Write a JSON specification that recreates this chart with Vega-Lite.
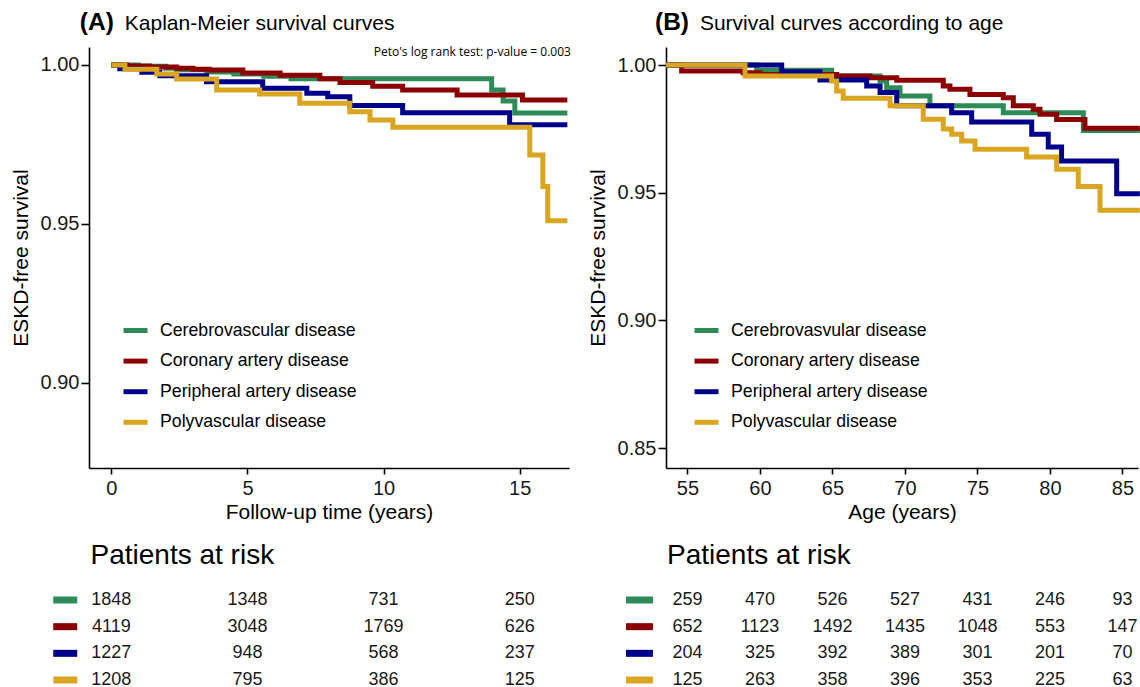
{
 "$schema": "https://vega.github.io/schema/vega-lite/v6.json",
 "padding": {"left": 10, "top": 10, "right": 0, "bottom": 0},
 "background": "white",
 "config": {
  "view": {"stroke": null},
  "font": "Liberation Sans",
  "axis": {"grid": false, "domainColor": "#000", "domainWidth": 1.6, "tickColor": "#000", "tickWidth": 1.6, "tickSize": 6, "labelFont": "Liberation Sans", "labelFontSize": 20, "labelColor": "#1a1a1a", "titleFont": "Liberation Sans", "titleFontSize": 21, "titleFontWeight": "normal", "titleColor": "#000", "labelPadding": 4},
  "axisY": {"tickSize": 8, "labelPadding": 2, "titlePadding": 8.6},
  "legend": {"orient": "none", "padding": 0, "symbolType": "stroke", "symbolStrokeWidth": 5, "symbolSize": 576, "labelFont": "Liberation Sans", "labelFontSize": 17.7, "labelColor": "#000", "labelOffset": 10, "labelLimit": 0, "rowPadding": 5.6, "title": null},
  "title": {"font": "Liberation Sans", "fontWeight": "normal", "color": "#000", "anchor": "start", "frame": "group"}
 },
 "datasets": {
  "curvesA": [
   {"g": "Cerebrovascular disease", "t": 0, "s": 1.0},
   {"g": "Cerebrovascular disease", "t": 1.0, "s": 0.9996},
   {"g": "Cerebrovascular disease", "t": 2.0, "s": 0.999},
   {"g": "Cerebrovascular disease", "t": 2.4, "s": 0.9985},
   {"g": "Cerebrovascular disease", "t": 3.5, "s": 0.9978},
   {"g": "Cerebrovascular disease", "t": 4.5, "s": 0.9972},
   {"g": "Cerebrovascular disease", "t": 5.6, "s": 0.9965},
   {"g": "Cerebrovascular disease", "t": 6.6, "s": 0.9957},
   {"g": "Cerebrovascular disease", "t": 13.97, "s": 0.9921},
   {"g": "Cerebrovascular disease", "t": 14.39, "s": 0.9887},
   {"g": "Cerebrovascular disease", "t": 14.82, "s": 0.9849},
   {"g": "Cerebrovascular disease", "t": 16.75, "s": 0.9849},
   {"g": "Coronary artery disease", "t": 0, "s": 1.0},
   {"g": "Coronary artery disease", "t": 0.57, "s": 0.9997},
   {"g": "Coronary artery disease", "t": 1.41, "s": 0.9994},
   {"g": "Coronary artery disease", "t": 2.4, "s": 0.999},
   {"g": "Coronary artery disease", "t": 3.0, "s": 0.9987},
   {"g": "Coronary artery disease", "t": 3.6, "s": 0.9984},
   {"g": "Coronary artery disease", "t": 4.83, "s": 0.9975},
   {"g": "Coronary artery disease", "t": 6.2, "s": 0.9968},
   {"g": "Coronary artery disease", "t": 7.66, "s": 0.9957},
   {"g": "Coronary artery disease", "t": 8.4, "s": 0.9945},
   {"g": "Coronary artery disease", "t": 9.6, "s": 0.9933},
   {"g": "Coronary artery disease", "t": 10.7, "s": 0.9921},
   {"g": "Coronary artery disease", "t": 12.7, "s": 0.9906},
   {"g": "Coronary artery disease", "t": 15.1, "s": 0.989},
   {"g": "Coronary artery disease", "t": 16.75, "s": 0.989},
   {"g": "Peripheral artery disease", "t": 0, "s": 1.0},
   {"g": "Peripheral artery disease", "t": 0.31, "s": 0.9988},
   {"g": "Peripheral artery disease", "t": 1.12, "s": 0.9977},
   {"g": "Peripheral artery disease", "t": 1.78, "s": 0.9966},
   {"g": "Peripheral artery disease", "t": 3.5, "s": 0.9947},
   {"g": "Peripheral artery disease", "t": 5.56, "s": 0.9927},
   {"g": "Peripheral artery disease", "t": 7.18, "s": 0.9911},
   {"g": "Peripheral artery disease", "t": 7.95, "s": 0.99},
   {"g": "Peripheral artery disease", "t": 8.76, "s": 0.9873},
   {"g": "Peripheral artery disease", "t": 10.7, "s": 0.985},
   {"g": "Peripheral artery disease", "t": 14.63, "s": 0.9812},
   {"g": "Peripheral artery disease", "t": 16.75, "s": 0.9812},
   {"g": "Polyvascular disease", "t": 0, "s": 1.0},
   {"g": "Polyvascular disease", "t": 0.5, "s": 0.9987},
   {"g": "Polyvascular disease", "t": 1.67, "s": 0.9972},
   {"g": "Polyvascular disease", "t": 2.4, "s": 0.9956},
   {"g": "Polyvascular disease", "t": 3.87, "s": 0.9921},
   {"g": "Polyvascular disease", "t": 5.45, "s": 0.9909},
   {"g": "Polyvascular disease", "t": 6.92, "s": 0.988},
   {"g": "Polyvascular disease", "t": 8.76, "s": 0.9853},
   {"g": "Polyvascular disease", "t": 9.5, "s": 0.9827},
   {"g": "Polyvascular disease", "t": 10.34, "s": 0.9804},
   {"g": "Polyvascular disease", "t": 15.37, "s": 0.9717},
   {"g": "Polyvascular disease", "t": 15.85, "s": 0.9618},
   {"g": "Polyvascular disease", "t": 16.03, "s": 0.951},
   {"g": "Polyvascular disease", "t": 16.75, "s": 0.951}
  ],
  "curvesB": [
   {"g": "Cerebrovasvular disease", "t": 53.52, "s": 1.0},
   {"g": "Cerebrovasvular disease", "t": 59.77, "s": 0.9979},
   {"g": "Cerebrovasvular disease", "t": 64.94, "s": 0.9957},
   {"g": "Cerebrovasvular disease", "t": 68.28, "s": 0.9937},
   {"g": "Cerebrovasvular disease", "t": 68.74, "s": 0.9911},
   {"g": "Cerebrovasvular disease", "t": 69.66, "s": 0.9879},
   {"g": "Cerebrovasvular disease", "t": 71.72, "s": 0.984},
   {"g": "Cerebrovasvular disease", "t": 76.78, "s": 0.9813},
   {"g": "Cerebrovasvular disease", "t": 82.3, "s": 0.9744},
   {"g": "Cerebrovasvular disease", "t": 86.2, "s": 0.9744},
   {"g": "Coronary artery disease", "t": 53.52, "s": 1.0},
   {"g": "Coronary artery disease", "t": 54.6, "s": 0.9977},
   {"g": "Coronary artery disease", "t": 58.85, "s": 0.997},
   {"g": "Coronary artery disease", "t": 60.0, "s": 0.9963},
   {"g": "Coronary artery disease", "t": 65.29, "s": 0.9957},
   {"g": "Coronary artery disease", "t": 67.59, "s": 0.995},
   {"g": "Coronary artery disease", "t": 69.43, "s": 0.994},
   {"g": "Coronary artery disease", "t": 72.64, "s": 0.9918},
   {"g": "Coronary artery disease", "t": 73.1, "s": 0.9905},
   {"g": "Coronary artery disease", "t": 74.48, "s": 0.9885},
   {"g": "Coronary artery disease", "t": 76.78, "s": 0.9872},
   {"g": "Coronary artery disease", "t": 77.47, "s": 0.984},
   {"g": "Coronary artery disease", "t": 78.85, "s": 0.9827},
   {"g": "Coronary artery disease", "t": 79.31, "s": 0.9807},
   {"g": "Coronary artery disease", "t": 80.46, "s": 0.9787},
   {"g": "Coronary artery disease", "t": 82.41, "s": 0.9752},
   {"g": "Coronary artery disease", "t": 86.2, "s": 0.9752},
   {"g": "Peripheral artery disease", "t": 53.52, "s": 1.0},
   {"g": "Peripheral artery disease", "t": 61.5, "s": 0.9974},
   {"g": "Peripheral artery disease", "t": 64.14, "s": 0.9941},
   {"g": "Peripheral artery disease", "t": 67.36, "s": 0.9918},
   {"g": "Peripheral artery disease", "t": 68.28, "s": 0.9892},
   {"g": "Peripheral artery disease", "t": 69.43, "s": 0.984},
   {"g": "Peripheral artery disease", "t": 73.22, "s": 0.9813},
   {"g": "Peripheral artery disease", "t": 74.6, "s": 0.9777},
   {"g": "Peripheral artery disease", "t": 78.74, "s": 0.9729},
   {"g": "Peripheral artery disease", "t": 79.88, "s": 0.9679},
   {"g": "Peripheral artery disease", "t": 80.8, "s": 0.9624},
   {"g": "Peripheral artery disease", "t": 84.6, "s": 0.9496},
   {"g": "Peripheral artery disease", "t": 86.2, "s": 0.9496},
   {"g": "Polyvascular disease", "t": 53.52, "s": 1.0},
   {"g": "Polyvascular disease", "t": 58.97, "s": 0.9957},
   {"g": "Polyvascular disease", "t": 64.94, "s": 0.9937},
   {"g": "Polyvascular disease", "t": 65.29, "s": 0.9898},
   {"g": "Polyvascular disease", "t": 65.74, "s": 0.987},
   {"g": "Polyvascular disease", "t": 68.97, "s": 0.984},
   {"g": "Polyvascular disease", "t": 71.26, "s": 0.9788},
   {"g": "Polyvascular disease", "t": 72.64, "s": 0.9749},
   {"g": "Polyvascular disease", "t": 73.22, "s": 0.9729},
   {"g": "Polyvascular disease", "t": 73.91, "s": 0.9702},
   {"g": "Polyvascular disease", "t": 74.83, "s": 0.967},
   {"g": "Polyvascular disease", "t": 78.39, "s": 0.964},
   {"g": "Polyvascular disease", "t": 80.46, "s": 0.9592},
   {"g": "Polyvascular disease", "t": 81.95, "s": 0.9524},
   {"g": "Polyvascular disease", "t": 83.45, "s": 0.9431},
   {"g": "Polyvascular disease", "t": 86.2, "s": 0.9431}
  ],
  "riskA": [
   {"g": "Cerebrovascular disease", "t": 0, "n": 1848},
   {"g": "Cerebrovascular disease", "t": 5, "n": 1348},
   {"g": "Cerebrovascular disease", "t": 10, "n": 731},
   {"g": "Cerebrovascular disease", "t": 15, "n": 250},
   {"g": "Coronary artery disease", "t": 0, "n": 4119},
   {"g": "Coronary artery disease", "t": 5, "n": 3048},
   {"g": "Coronary artery disease", "t": 10, "n": 1769},
   {"g": "Coronary artery disease", "t": 15, "n": 626},
   {"g": "Peripheral artery disease", "t": 0, "n": 1227},
   {"g": "Peripheral artery disease", "t": 5, "n": 948},
   {"g": "Peripheral artery disease", "t": 10, "n": 568},
   {"g": "Peripheral artery disease", "t": 15, "n": 237},
   {"g": "Polyvascular disease", "t": 0, "n": 1208},
   {"g": "Polyvascular disease", "t": 5, "n": 795},
   {"g": "Polyvascular disease", "t": 10, "n": 386},
   {"g": "Polyvascular disease", "t": 15, "n": 125}
  ],
  "riskB": [
   {"g": "Cerebrovascular disease", "t": 55, "n": 259},
   {"g": "Cerebrovascular disease", "t": 60, "n": 470},
   {"g": "Cerebrovascular disease", "t": 65, "n": 526},
   {"g": "Cerebrovascular disease", "t": 70, "n": 527},
   {"g": "Cerebrovascular disease", "t": 75, "n": 431},
   {"g": "Cerebrovascular disease", "t": 80, "n": 246},
   {"g": "Cerebrovascular disease", "t": 85, "n": 93},
   {"g": "Coronary artery disease", "t": 55, "n": 652},
   {"g": "Coronary artery disease", "t": 60, "n": 1123},
   {"g": "Coronary artery disease", "t": 65, "n": 1492},
   {"g": "Coronary artery disease", "t": 70, "n": 1435},
   {"g": "Coronary artery disease", "t": 75, "n": 1048},
   {"g": "Coronary artery disease", "t": 80, "n": 553},
   {"g": "Coronary artery disease", "t": 85, "n": 147},
   {"g": "Peripheral artery disease", "t": 55, "n": 204},
   {"g": "Peripheral artery disease", "t": 60, "n": 325},
   {"g": "Peripheral artery disease", "t": 65, "n": 392},
   {"g": "Peripheral artery disease", "t": 70, "n": 389},
   {"g": "Peripheral artery disease", "t": 75, "n": 301},
   {"g": "Peripheral artery disease", "t": 80, "n": 201},
   {"g": "Peripheral artery disease", "t": 85, "n": 70},
   {"g": "Polyvascular disease", "t": 55, "n": 125},
   {"g": "Polyvascular disease", "t": 60, "n": 263},
   {"g": "Polyvascular disease", "t": 65, "n": 358},
   {"g": "Polyvascular disease", "t": 70, "n": 396},
   {"g": "Polyvascular disease", "t": 75, "n": 353},
   {"g": "Polyvascular disease", "t": 80, "n": 225},
   {"g": "Polyvascular disease", "t": 85, "n": 63}
  ]
 },
 "resolve": {"scale": {"color": "independent"}, "legend": {"color": "independent"}},
 "spacing": 9,
 "hconcat": [
  {
   "spacing": 19,
   "resolve": {"scale": {"color": "independent"}, "legend": {"color": "independent"}},
   "vconcat": [
    {
     "width": 480, "height": 421,
     "layer": [
      {"data": {"name": "curvesA"},
       "mark": {"type": "line", "interpolate": "step-after", "strokeWidth": 5, "strokeJoin": "miter"},
       "encoding": {
        "x": {"field": "t", "type": "quantitative", "scale": {"domain": [-0.82, 16.81], "nice": false, "zero": false}, "axis": {"values": [0, 5, 10, 15], "title": "Follow-up time (years)", "titlePadding": 3}},
        "y": {"field": "s", "type": "quantitative", "scale": {"domain": [0.87327, 1.00566], "nice": false, "zero": false}, "axis": {"values": [0.9, 0.95, 1.0], "format": ".2f", "title": "ESKD-free survival"}},
        "color": {"field": "g", "type": "nominal", "scale": {"domain": ["Cerebrovascular disease", "Coronary artery disease", "Peripheral artery disease", "Polyvascular disease"], "range": ["#2E8B57", "#8B0000", "#00008B", "#DAA520"]}, "legend": {"legendX": 32, "legendY": 269}}
       }},
      {"data": {"values": [{"txt": "(A)"}]},
       "mark": {"type": "text", "align": "left", "baseline": "alphabetic", "fontSize": 24.5, "fontWeight": "bold", "color": "#000"},
       "encoding": {"x": {"datum": -1.157}, "y": {"datum": 1.011}, "text": {"field": "txt"}}},
      {"data": {"values": [{"txt": "Kaplan-Meier survival curves"}]},
       "mark": {"type": "text", "align": "left", "baseline": "alphabetic", "fontSize": 21, "color": "#000"},
       "encoding": {"x": {"datum": 0.496}, "y": {"datum": 1.011}, "text": {"field": "txt"}}},
      {"data": {"values": [{"txt": "Peto's log rank test: p-value = 0.003"}]},
       "mark": {"type": "text", "align": "right", "baseline": "alphabetic", "fontSize": 12, "font": "Open Sans", "color": "#000"},
       "encoding": {"x": {"datum": 16.88}, "y": {"datum": 1.00283}, "text": {"field": "txt"}}}
     ]
    },
    {
     "width": 480, "height": 96,
     "title": {"text": "Patients at risk", "fontSize": 28, "dx": 1.5, "offset": 21.5},
     "data": {"name": "riskA"},
     "layer": [
      {"mark": {"type": "text", "fontSize": 18, "color": "#1a1a1a"},
       "encoding": {
        "x": {"field": "t", "type": "quantitative", "scale": {"domain": [-0.82, 16.81], "nice": false, "zero": false}, "axis": null},
        "y": {"field": "g", "type": "nominal", "scale": {"type": "point", "domain": ["Cerebrovascular disease", "Coronary artery disease", "Peripheral artery disease", "Polyvascular disease"], "padding": 0.3}, "axis": null},
        "text": {"field": "n", "type": "quantitative", "format": "d"}}},
      {"transform": [{"filter": "datum.t == 0"}],
       "mark": {"type": "rule", "strokeWidth": 7, "strokeCap": "butt"},
       "encoding": {
        "x": {"datum": -2.134}, "x2": {"datum": -1.252},
        "y": {"field": "g", "type": "nominal"},
        "color": {"field": "g", "type": "nominal", "scale": {"domain": ["Cerebrovascular disease", "Coronary artery disease", "Peripheral artery disease", "Polyvascular disease"], "range": ["#2E8B57", "#8B0000", "#00008B", "#DAA520"]}, "legend": null}}}
     ]
    }
   ]
  },
  {
   "spacing": 19,
   "resolve": {"scale": {"color": "independent"}, "legend": {"color": "independent"}},
   "vconcat": [
    {
     "width": 472, "height": 421,
     "layer": [
      {"data": {"name": "curvesB"},
       "mark": {"type": "line", "interpolate": "step-after", "strokeWidth": 5, "strokeJoin": "miter"},
       "encoding": {
        "x": {"field": "t", "type": "quantitative", "scale": {"domain": [53.52, 86.07], "nice": false, "zero": false}, "axis": {"values": [55, 60, 65, 70, 75, 80, 85], "title": "Age (years)", "titlePadding": 3}},
        "y": {"field": "s", "type": "quantitative", "scale": {"domain": [0.84221, 1.00705], "nice": false, "zero": false}, "axis": {"values": [0.85, 0.9, 0.95, 1.0], "format": ".2f", "title": "ESKD-free survival"}},
        "color": {"field": "g", "type": "nominal", "scale": {"domain": ["Cerebrovasvular disease", "Coronary artery disease", "Peripheral artery disease", "Polyvascular disease"], "range": ["#2E8B57", "#8B0000", "#00008B", "#DAA520"]}, "legend": {"legendX": 26, "legendY": 269}}
       }},
      {"data": {"values": [{"txt": "(B)"}]},
       "mark": {"type": "text", "align": "left", "baseline": "alphabetic", "fontSize": 24.5, "fontWeight": "bold", "color": "#000"},
       "encoding": {"x": {"datum": 52.76}, "y": {"datum": 1.0137}, "text": {"field": "txt"}}},
      {"data": {"values": [{"txt": "Survival curves according to age"}]},
       "mark": {"type": "text", "align": "left", "baseline": "alphabetic", "fontSize": 21, "color": "#000"},
       "encoding": {"x": {"datum": 55.86}, "y": {"datum": 1.0137}, "text": {"field": "txt"}}}
     ]
    },
    {
     "width": 472, "height": 96,
     "title": {"text": "Patients at risk", "fontSize": 28, "dx": 1, "offset": 21.5},
     "data": {"name": "riskB"},
     "layer": [
      {"mark": {"type": "text", "fontSize": 18, "color": "#1a1a1a"},
       "encoding": {
        "x": {"field": "t", "type": "quantitative", "scale": {"domain": [53.52, 86.07], "nice": false, "zero": false}, "axis": null},
        "y": {"field": "g", "type": "nominal", "scale": {"type": "point", "domain": ["Cerebrovascular disease", "Coronary artery disease", "Peripheral artery disease", "Polyvascular disease"], "padding": 0.3}, "axis": null},
        "text": {"field": "n", "type": "quantitative", "format": "d"}}},
      {"transform": [{"filter": "datum.t == 55"}],
       "mark": {"type": "rule", "strokeWidth": 7, "strokeCap": "butt"},
       "encoding": {
        "x": {"datum": 50.76}, "x2": {"datum": 52.62},
        "y": {"field": "g", "type": "nominal"},
        "color": {"field": "g", "type": "nominal", "scale": {"domain": ["Cerebrovascular disease", "Coronary artery disease", "Peripheral artery disease", "Polyvascular disease"], "range": ["#2E8B57", "#8B0000", "#00008B", "#DAA520"]}, "legend": null}}}
     ]
    }
   ]
  }
 ]
}
